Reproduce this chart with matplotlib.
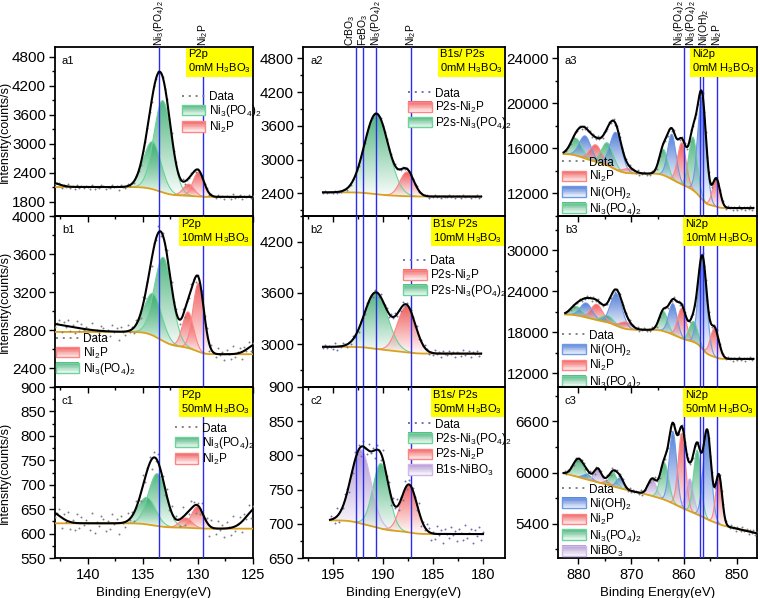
import numpy as np
import matplotlib
matplotlib.use('Agg')
import matplotlib.pyplot as plt
from matplotlib.ticker import MultipleLocator
from matplotlib.patches import Rectangle, Polygon
from matplotlib.lines import Line2D
from matplotlib.legend_handler import HandlerBase
from matplotlib.offsetbox import AnchoredText
from matplotlib.colors import to_rgb

plt.rcParams['font.family'] = ['Liberation Sans', 'DejaVu Sans']
plt.rcParams['mathtext.fontset'] = 'custom'
plt.rcParams['mathtext.rm'] = 'Liberation Sans'
plt.rcParams['mathtext.default'] = 'regular'

NPO = 'Ni$_3$(PO$_4$)$_2$'
NP = 'Ni$_2$P'
NOH = 'Ni(OH)$_2$'
NBO = 'NiBO$_3$'

# ---------------- data ----------------
# P2p column
A1_CEN = [134.15, 133.2, 130.85, 129.95]
A1_HGT = [980, 1900, 240, 500]
A1_SIG = [0.8, 0.8, 0.5, 0.5]
A1_KIND = ['npo', 'npo', 'np', 'np']
A1_BG = [2100, 1895, 0]
A1_EDGE = [(143.5, 100, 0.8)]
A1_RANGE = [125.0, 143.0]

B1_CEN = [134.1, 133.15, 130.9, 129.95]
B1_HGT = [440, 880, 380, 720]
B1_SIG = [0.8, 0.8, 0.5, 0.5]
B1_KIND = ['npo', 'npo', 'np', 'np']
B1_BG = [2780, 2545, 0]
B1_EDGE = [(144.0, 90, 2.5), (124.6, 110, 0.8)]
B1_RANGE = [125.0, 143.0]

C1_CEN = [134.65, 133.7, 131.1, 130.05]
C1_HGT = [55, 107, 20, 44]
C1_SIG = [0.8, 0.8, 0.55, 0.55]
C1_KIND = ['npo', 'npo', 'np', 'np']
C1_BG = [621, 610, 0]
C1_EDGE = [(143.5, 25, 0.9), (124.5, 45, 1.0)]
C1_RANGE = [125.0, 143.0]

# B1s / P2s column
A2_CEN = [190.65, 187.6]
A2_HGT = [1430, 430]
A2_SIG = [1.2, 0.7]
A2_KIND = ['npo', 'np']
A2_BG = [2420, 2345, 0]
A2_EDGE = []
A2_RANGE = [180.2, 196.0]

B2_CEN = [190.7, 187.65]
B2_HGT = [660, 540]
B2_SIG = [1.15, 0.9]
B2_KIND = ['npo', 'np']
B2_BG = [2970, 2890, 0]
B2_EDGE = []
B2_RANGE = [180.2, 196.0]

C2_CEN = [190.2, 187.4, 192.2]
C2_HGT = [95, 70, 108]
C2_SIG = [0.8, 0.8, 1.0]
C2_KIND = ['npo', 'np', 'bo']
C2_BG = [705, 685, 0]
C2_EDGE = []
C2_RANGE = [180.0, 195.3]

# Ni2p column
A3_CEN = [880.4, 878.7, 876.7, 874.5, 872.9, 870.5, 863.9, 862.3, 860.4, 858.3, 856.6, 853.9]
A3_HGT = [1500, 2000, 1500, 2000, 3300, 400, 2300, 4000, 3700, 4700, 9000, 2500]
A3_SIG = [1.1, 1.1, 1.1, 1.1, 1.1, 1.1, 0.8, 0.8, 0.8, 0.8, 0.8, 0.7]
A3_KIND = ['npo', 'oh', 'np', 'npo', 'oh', 'np', 'npo', 'oh', 'np', 'npo', 'oh', 'np']
A3_BG = [15500, 10700, 0]
A3_EDGE = []
A3_RANGE = [846.9, 882.8]

B3_CEN = [880.4, 878.5, 876.5, 874.5, 872.8, 871.0, 863.9, 862.1, 860.4, 858.2, 856.5, 854.2]
B3_HGT = [1300, 2100, 2300, 1000, 4700, 1000, 2900, 4500, 4400, 3000, 13300, 4200]
B3_SIG = [1.1, 1.1, 1.1, 1.1, 1.1, 1.1, 0.8, 0.8, 0.8, 0.8, 0.8, 0.8]
B3_KIND = ['npo', 'oh', 'np', 'npo', 'oh', 'np', 'npo', 'oh', 'np', 'npo', 'oh', 'np']
B3_BG = [20600, 14100, 0]
B3_EDGE = []
B3_RANGE = [846.9, 882.5]

C3_CEN = [880.0, 878.3, 876.3, 874.6, 873.4, 872.1, 866.0, 863.7, 862.1, 860.4, 858.9, 857.5, 855.6, 853.4]
C3_HGT = [210, 60, 160, 40, 160, 120, 200, 430, 840, 870, 380, 750, 1030, 570]
C3_SIG = [1.0, 0.8, 0.7, 0.6, 0.7, 0.7, 0.8, 0.8, 0.7, 0.7, 0.7, 0.7, 0.75, 0.6]
C3_KIND = ['npo', 'oh', 'bo', 'np', 'npo', 'oh', 'bo', 'npo', 'oh', 'np', 'bo', 'npo', 'oh', 'np']
C3_BG = [5990, 5290, 14]
C3_EDGE = []
C3_RANGE = [846.3, 882.8]

# hand-typed scatter of the measured points about the fit
RESID = [0.4, -0.9, 1.2, -0.3, 0.7, -1.4, 0.9, 0.2, -0.6, 1.5, -1.0, 0.1, 0.8, -1.2,
         0.5, -0.2, 1.1, -0.7, 0.0, 0.9, -1.5, 0.6, -0.1, 1.3, -0.8, 0.3, -1.1, 0.6,
         1.0, -0.4, 0.2, -1.3, 1.4, -0.9, 0.1, 0.5, -0.3, 0.8, -0.6, 1.2, -1.0]

# reference lines and their labels
COL1_LINES = [133.5, 129.5]
COL1_LBL_X = [133.5, 129.5]
COL1_LBL = [NPO, NP]
COL2_LINES = [192.7, 192.0, 190.7, 187.2]
COL2_LBL_X = [193.3, 192.0, 190.7, 187.2]
COL2_LBL = ['CrBO$_3$', 'FeBO$_3$', NPO, NP]
COL3_LINES = [860.0, 857.0, 856.5, 853.7]
COL3_LBL_X = [861.0, 858.6, 856.2, 853.8]
COL3_LBL = [NPO, NPO, NOH, NP]

COLORS = {'npo': ('#33a96a', '#6cd39a'),
          'np': ('#ee4545', '#ff8585'),
          'oh': ('#3668cf', '#6c9ae8'),
          'bo': ('#a688cc', '#d2b6ea')}
BGC = '#d9a11c'
LINEC = '#2a2af0'


class GradHandle:
    def __init__(self, kind):
        self.kind = kind


class GradHandler(HandlerBase):
    def create_artists(self, legend, orig, xd, yd, width, height, fontsize, trans):
        fc, ec = COLORS[orig.kind]
        fc = np.array(to_rgb(fc))
        arts = []
        n = 14
        for i in range(n):
            t = (i + 0.5) / n
            c = 1 - (1 - fc) * (0.05 + 0.8 * t)
            arts.append(Rectangle((-xd, -yd + height * i / n), width, height / n + 0.3,
                                  facecolor=c, edgecolor='none', transform=trans))
        arts.append(Rectangle((-xd, -yd), width, height, facecolor='none', edgecolor=ec,
                              lw=1.0, transform=trans))
        return arts


def draw_panel(ax, cen, hgt, sig, kind, bgp, edges, rng, noise, dstep, dcol):
    x = np.arange(rng[0], rng[1] + 0.001, 0.02)
    comps = [h * np.exp(-(x - c) ** 2 / (2 * s * s)) for c, h, s in zip(cen, hgt, sig)]
    tot = np.sum(comps, axis=0)
    cum = np.concatenate([[0], np.cumsum((tot[1:] + tot[:-1]) / 2 * np.diff(x))])
    S = cum / cum[-1]
    hi, lo, sl = bgp
    span = x[-1] - x[0]
    bg = lo + sl * (x - x[0]) + (hi - lo - sl * span) * S
    extra = np.zeros_like(x)
    for c, h, s in edges:
        extra += h * np.exp(-(x - c) ** 2 / (2 * s * s))
    env = bg + tot + extra
    for comp, k in zip(comps, kind):
        fc, ec = COLORS[k]
        sel = comp > 0.004 * comp.max()
        xs = x[sel]
        top = bg[sel] + comp[sel]
        base = bg[sel]
        verts = np.concatenate([np.column_stack([xs, top]),
                                np.column_stack([xs[::-1], base[::-1]])])
        poly = Polygon(verts, closed=True, fc='none', ec='none')
        ax.add_patch(poly)
        grad = np.zeros((128, 1, 4))
        grad[..., :3] = to_rgb(fc)
        grad[:, 0, 3] = np.linspace(0.02, 0.85, 128)
        im = ax.imshow(grad, extent=[xs.min(), xs.max(), base.min(), top.max()],
                       origin='lower', aspect='auto', zorder=1, interpolation='bilinear')
        im.set_clip_path(poly)
        ax.plot(xs, top, color=ec, lw=0.8, zorder=2)
    ax.plot(x, bg, color=BGC, lw=1.3, zorder=3)
    idx = np.arange(0, len(x), dstep)
    res = np.resize(np.array(RESID), len(idx)) * noise
    ax.plot(x[idx], env[idx] + res, ls='none', marker='o', ms=1.4, mew=0,
            color=dcol, zorder=3.5)
    ax.plot(x, env, color='black', lw=1.5, zorder=4)


fig = plt.figure(figsize=(7.6, 5.98), dpi=100)
W, H = 760.0, 598.0
cols = [(55, 253), (303, 505), (558, 757)]
rows = [(47, 216), (216, 387), (387, 558)]


def mk(ci, ri):
    x0, x1 = cols[ci]
    y0, y1 = rows[ri]
    ax = fig.add_axes([x0 / W, 1 - y1 / H, (x1 - x0) / W, (y1 - y0) / H])
    ax.set_facecolor('none')
    return ax


panels = {
    ('a', 1): (A1_CEN, A1_HGT, A1_SIG, A1_KIND, A1_BG, A1_EDGE, A1_RANGE, 35, 10, '#808080'),
    ('b', 1): (B1_CEN, B1_HGT, B1_SIG, B1_KIND, B1_BG, B1_EDGE, B1_RANGE, 55, 10, '#808080'),
    ('c', 1): (C1_CEN, C1_HGT, C1_SIG, C1_KIND, C1_BG, C1_EDGE, C1_RANGE, 15, 10, '#808080'),
    ('a', 2): (A2_CEN, A2_HGT, A2_SIG, A2_KIND, A2_BG, A2_EDGE, A2_RANGE, 20, 10, '#7070b0'),
    ('b', 2): (B2_CEN, B2_HGT, B2_SIG, B2_KIND, B2_BG, B2_EDGE, B2_RANGE, 30, 10, '#7070b0'),
    ('c', 2): (C2_CEN, C2_HGT, C2_SIG, C2_KIND, C2_BG, C2_EDGE, C2_RANGE, 9, 10, '#7070b0'),
    ('a', 3): (A3_CEN, A3_HGT, A3_SIG, A3_KIND, A3_BG, A3_EDGE, A3_RANGE, 150, 15, '#808080'),
    ('b', 3): (B3_CEN, B3_HGT, B3_SIG, B3_KIND, B3_BG, B3_EDGE, B3_RANGE, 220, 15, '#808080'),
    ('c', 3): (C3_CEN, C3_HGT, C3_SIG, C3_KIND, C3_BG, C3_EDGE, C3_RANGE, 22, 15, '#808080'),
}

XLIM = {1: (143, 125), 2: (198.0, 177.8), 3: (883.85, 846.2)}
XMAJ = {1: 5, 2: 5, 3: 10}
YLIM = {('a', 1): (1500, 5000), ('b', 1): (2200, 4000), ('c', 1): (550, 900),
        ('a', 2): (2000, 5000), ('b', 2): (2500, 4500), ('c', 2): (650, 900),
        ('a', 3): (10000, 25000), ('b', 3): (10000, 35000), ('c', 3): (5000, 7000)}
YMAJ = {('a', 1): 600, ('b', 1): 400, ('c', 1): 50,
        ('a', 2): 600, ('b', 2): 600, ('c', 2): 50,
        ('a', 3): 4000, ('b', 3): 6000, ('c', 3): 600}
BOX = {1: 'P2p', 2: 'B1s/ P2s', 3: 'Ni2p'}
CONC = {'a': '0mM', 'b': '10mM', 'c': '50mM'}
LEG = {
    ('a', 1): (['npo', 'np'], [NPO, NP], 'upper left', (0.64, 0.74)),
    ('b', 1): (['np', 'npo'], [NP, NPO], 'lower left', (0.003, 0.06)),
    ('c', 1): (['npo', 'np'], [NPO, NP], 'upper left', (0.605, 0.79)),
    ('a', 2): (['np', 'npo'], ['P2s-' + NP, 'P2s-' + NPO], 'upper left', (0.52, 0.76)),
    ('b', 2): (['np', 'npo'], ['P2s-' + NP, 'P2s-' + NPO], 'upper left', (0.495, 0.77)),
    ('c', 2): (['npo', 'np', 'bo'], ['P2s-' + NPO, 'P2s-' + NP, 'B1s-' + NBO], 'upper left', (0.52, 0.815)),
    ('a', 3): (['np', 'oh', 'npo'], [NP, NOH, NPO], 'upper left', (0.02, 0.35)),
    ('b', 3): (['oh', 'np', 'npo'], [NOH, NP, NPO], 'upper left', (0.02, 0.335)),
    ('c', 3): (['oh', 'np', 'npo', 'bo'], [NOH, NP, NPO, NBO], 'upper left', (0.02, 0.435)),
}
LINES = {1: COL1_LINES, 2: COL2_LINES, 3: COL3_LINES}
LBLX = {1: COL1_LBL_X, 2: COL2_LBL_X, 3: COL3_LBL_X}
LBLS = {1: COL1_LBL, 2: COL2_LBL, 3: COL3_LBL}

for ri, r in enumerate(['a', 'b', 'c']):
    for ci in [1, 2, 3]:
        ax = mk(ci - 1, ri)
        p = panels[(r, ci)]
        draw_panel(ax, *p[:7], noise=p[7], dstep=p[8], dcol=p[9])
        for xv in LINES[ci]:
            ax.axvline(xv, color=LINEC, lw=1.0, zorder=3.8)
        ax.set_xlim(*XLIM[ci])
        ax.set_ylim(*YLIM[(r, ci)])
        ax.xaxis.set_major_locator(MultipleLocator(XMAJ[ci]))
        ax.xaxis.set_minor_locator(MultipleLocator(XMAJ[ci] / 2))
        ax.yaxis.set_major_locator(MultipleLocator(YMAJ[(r, ci)]))
        ax.yaxis.set_minor_locator(MultipleLocator(YMAJ[(r, ci)] / 2))
        ax.tick_params(which='both', direction='out', width=1.0)
        ax.tick_params(axis='y', labelsize=11, pad=2.5)
        ax.tick_params(axis='x', labelsize=10.5)
        ax.tick_params(which='major', length=4)
        ax.tick_params(which='minor', length=2)
        for sp in ax.spines.values():
            sp.set_linewidth(1.3)
        if r != 'c':
            ax.tick_params(labelbottom=False)
        else:
            ax.set_xlabel('Binding Energy(eV)', fontsize=9.5, labelpad=3)
        if ci == 1:
            ax.set_ylabel('Intensity(counts/s)', fontsize=9)
            ax.yaxis.set_label_coords(-0.222, 0.5)
        ax.text(0.035, 0.92, f'{r}{ci}', transform=ax.transAxes, fontsize=8,
                va='center', ha='left')
        at = AnchoredText(f'{BOX[ci]}\n{CONC[r]} H$_3$BO$_3$', loc='upper right',
                          frameon=True, pad=0.15, borderpad=0.05 if r == 'a' else 0.12,
                          prop=dict(fontsize=8))
        at.patch.set_facecolor('#ffff00')
        at.patch.set_edgecolor('none')
        at.zorder = 6
        ax.add_artist(at)
        kinds, labels, loc, anchor = LEG[(r, ci)]
        handles = [Line2D([0], [0], ls=(0, (1, 2.5)), color=p[9], lw=1.4)]
        handles += [GradHandle(k) for k in kinds]
        ax.legend(handles, ['Data'] + labels, loc=loc, bbox_to_anchor=anchor,
                  frameon=False, fontsize=8.5, handlelength=2.0, handleheight=0.95,
                  handletextpad=0.3, labelspacing=0.02, borderpad=0, borderaxespad=0,
                  handler_map={GradHandle: GradHandler()})
        if r == 'a':
            for xv, lb in zip(LBLX[ci], LBLS[ci]):
                ax.annotate(lb, (xv, 1.0), xycoords=ax.get_xaxis_transform(),
                            xytext=(0, 0.5), textcoords='offset points', rotation=90,
                            ha='center', va='bottom', fontsize=7.4)

fig.savefig('out.png', dpi=100)
